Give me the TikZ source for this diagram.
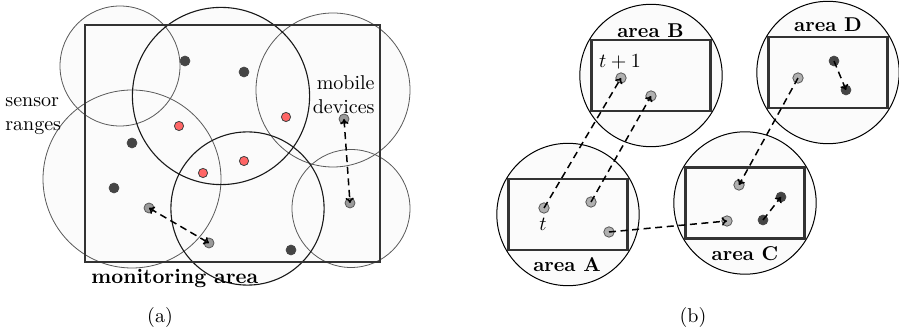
\documentclass[tikz,border=0pt]{standalone}
\usetikzlibrary{arrows.meta}
\definecolor{rangefill}{HTML}{FBFBFB}
\definecolor{darkdot}{HTML}{454545}
\definecolor{reddot}{HTML}{FF6666}
\definecolor{graydotA}{HTML}{9A9A9A}
\definecolor{graydotB}{HTML}{B0B0B0}
\definecolor{edge}{HTML}{333333}
\tikzset{
  rfill/.style={fill=rangefill},
  rlight/.style={draw=black!65, line width=0.4pt},
  rdark/.style={draw=black!90, line width=0.55pt},
  area/.style={draw=edge, line width=1.1pt},
  ddot/.style={circle, fill=darkdot, draw=darkdot, line width=0.3pt, minimum size=5pt, inner sep=0pt},
  rdot/.style={circle, fill=reddot, draw=black!75, line width=0.4pt, minimum size=4.6pt, inner sep=0pt},
  gdotA/.style={circle, fill=graydotA, draw=black!65, line width=0.4pt, minimum size=5pt, inner sep=0pt},
  gdotB/.style={circle, fill=graydotB, draw=black!65, line width=0.4pt, minimum size=5.2pt, inner sep=0pt},
  move/.style={dashed, dash pattern=on 3.5pt off 2.3pt, line width=0.75pt, -{To[length=2.6pt,width=4.2pt]}},
  move2/.style={move, {To[length=2.6pt,width=4.2pt]}-{To[length=2.6pt,width=4.2pt]}},
  lbl/.style={font=\bfseries, inner sep=0pt},
}
\begin{document}
\begin{tikzpicture}[x=0.5pt,y=-0.5pt]
\useasboundingbox (0,0) rectangle (899,335);
% ---------- panel (a) ----------
\fill[rangefill] (85,25) rectangle (380,262);
\foreach \c/\r in {{(120,66)}/30pt,{(221,96)}/44.3pt,{(333,90)}/38.5pt,{(247.5,208.5)}/38.3pt,{(132,179)}/44.5pt,{(351,208.5)}/29.5pt}
  \fill[rangefill] \c circle[radius=\r];
\draw[rlight] (120,66) circle[radius=30pt];
\draw[rlight] (333,90) circle[radius=38.5pt];
\draw[rlight] (132,179) circle[radius=44.5pt];
\draw[rlight] (351,208.5) circle[radius=29.5pt];
\draw[rdark] (221,96) circle[radius=44.3pt];
\draw[rdark] (247.5,208.5) circle[radius=38.3pt];
\draw[area] (85,25) rectangle (380,262);
% sensors
\node[ddot] (s1) at (185,61) {};
\node[ddot] (s2) at (244,72) {};
\node[ddot] (s3) at (132,143) {};
\node[ddot] (s4) at (114,188) {};
\node[ddot] (s5) at (291,250) {};
\node[rdot] (r1) at (179,126) {};
\node[rdot] (r2) at (203,173) {};
\node[rdot] (r3) at (244,161) {};
\node[rdot] (r4) at (286,117) {};
% mobile devices
\node[gdotA] (m1) at (149,208) {};
\node[gdotA] (m2) at (209,243) {};
\node[gdotA] (m3) at (344,119) {};
\node[gdotA] (m4) at (350,203) {};
\draw[move2] (m1.center) -- (m2.center);
\draw[move2] (m3.center) -- (m4.center);
% labels
\node[align=left, anchor=west, inner sep=0pt] (lsr) at (5,116) {sensor\\ranges};
\node[align=right, anchor=east, inner sep=0pt] (lmd) at (375,95) {mobile\\devices};
\node[anchor=west, inner sep=0pt, font=\bfseries\fontsize{10.4}{12}\selectfont] (lma) at (91,278) {monitoring area};
\node (capa) at (160,318) {(a)};
% ---------- panel (b) ----------
\foreach \cx/\cy/\nm in {568/214.5/A, 651/75.5/B, 745/203/C, 828/72.5/D}{
  \draw[rfill, draw=black, line width=0.5pt] (\cx,\cy) circle[radius=35.6pt];
  \draw[area, fill=rangefill] (\cx-59.5,\cy-35.5) rectangle (\cx+59.5,\cy+35.5);
}
\node[lbl] (la) at (567,265) {area A};
\node[lbl] (lb) at (650.5,31) {area B};
\node[lbl] (lc) at (745,254) {area C};
\node[lbl] (ld) at (828,25) {area D};
% devices
\node[gdotB] (a1) at (544,208) {};
\node[gdotB] (a2) at (591,202) {};
\node[gdotB] (a3) at (609,232) {};
\node[gdotB] (b1) at (621,78) {};
\node[gdotB] (b2) at (651,96) {};
\node[gdotB] (c1) at (739,185) {};
\node[gdotB] (c2) at (727,221) {};
\node[gdotB] (d1) at (798,78) {};
\node[ddot] (c3) at (763,220) {};
\node[ddot] (c4) at (781,197) {};
\node[ddot] (d2) at (834,61) {};
\node[ddot] (d3) at (846,90) {};
\draw[move] (a1.center) -- (b1.center);
\draw[move] (a2.center) -- (b2.center);
\draw[move] (a3.center) -- (c2.center);
\draw[move] (d1.center) -- (c1.center);
\draw[move] (c3.center) -- (c4.center);
\draw[move] (d2.center) -- (d3.center);
\node (lt) at (543,224) {$t$};
\node (lt1) at (620,62) {$t+1$};
\node (capb) at (693,318) {(b)};
\end{tikzpicture}
\end{document}
